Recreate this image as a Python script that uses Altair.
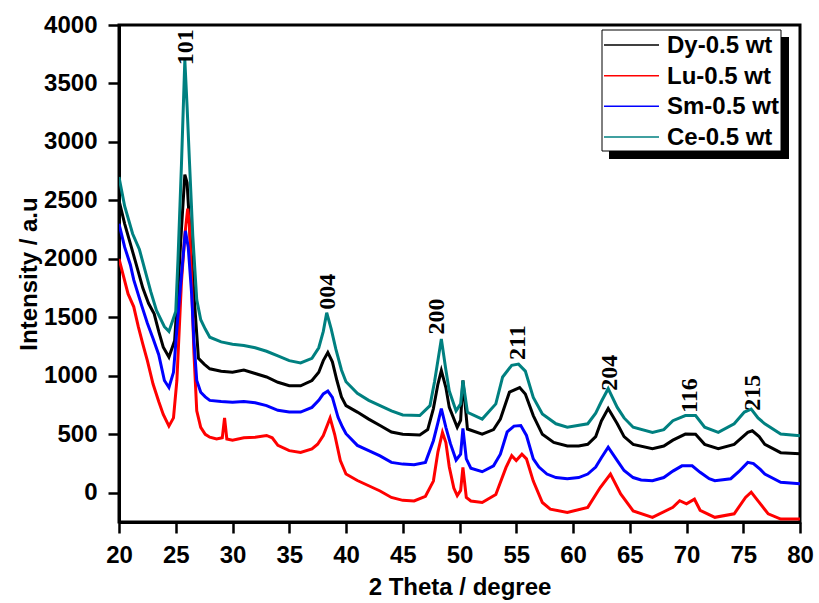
import altair as alt
import pandas as pd

series_names = ["Dy-0.5 wt", "Lu-0.5 wt", "Sm-0.5 wt", "Ce-0.5 wt"]
series_colors = ["#000000", "#ff0000", "#0000ff", "#008080"]

dy_x = [20, 20.5, 21, 21.5, 22.1, 22.6, 23.1, 23.5, 23.9, 24.4, 24.9, 25.2, 25.5, 25.8, 26.0, 26.3, 26.6, 27.0, 27.5, 28,
        29, 30, 31, 32, 33, 34, 35, 36, 37, 37.6, 38, 38.4, 38.8, 39.2, 39.6, 40, 41, 42, 43, 44,
        45, 46.5, 47.2, 47.7, 48.1, 48.4, 48.8, 49.1, 49.8, 50.1, 50.3, 50.7, 52, 53, 53.6, 54.4, 55.3, 55.8, 56.5, 57.3,
        58.3, 59.5, 60.5, 61.3, 62, 62.5, 63.1, 63.9, 64.5, 65.3, 67, 68, 68.8, 69.9, 70.8, 71.6, 72.8, 74.2, 75.4, 75.8,
        76.4, 76.9, 78.3, 80]
dy_y = [2500, 2300, 2130, 1960, 1750, 1620, 1530, 1380, 1245, 1160, 1300, 1750, 2250, 2720, 2650, 2150, 1700, 1150, 1100, 1060,
        1040, 1030, 1050, 1020, 990, 945, 915, 915, 960, 1030, 1130, 1200, 1120, 960, 820, 745, 690, 630, 575, 520,
        500, 495, 540, 720, 930, 1045, 900, 730, 560, 620, 960, 545, 502, 540, 630, 860, 900, 845, 660, 500,
        430, 400, 400, 414, 480, 614, 720, 590, 480, 414, 377, 400, 450, 502, 500, 414, 377, 414, 516, 530,
        480, 414, 343, 334]

lu_x = [20, 20.4, 20.8, 21.3, 21.7, 22.1, 22.5, 23, 23.5, 23.9, 24.4, 24.8, 25.1, 25.5, 25.8, 26.05, 26.2, 26.4, 26.6, 26.85,
        27.2, 27.6, 28, 28.6, 29.1, 29.3, 29.5, 30, 31, 32, 33, 33.5, 34, 35, 36, 37, 37.5, 38, 38.6, 39,
        39.5, 40, 41, 42, 43, 44, 45, 46, 47, 47.7, 48.1, 48.5, 48.8, 49.1, 49.5, 49.8, 50.1, 50.3, 50.6, 51,
        52, 53.2, 54.1, 54.6, 55.0, 55.5, 55.9, 56.5, 57.3, 58, 59.5, 61.3, 62.4, 63.3, 64.2, 65.3, 67, 68.8, 69.4, 70,
        70.7, 71.2, 72.5, 74.2, 75.2, 75.7, 76.3, 77.2, 78.3, 80]
lu_y = [2000, 1850, 1700, 1590, 1420, 1270, 1130, 930, 780, 670, 570, 640, 960, 1800, 2200, 2430, 2300, 1800, 1200, 700,
        560, 500, 475, 460, 470, 640, 460, 450, 470, 475, 490, 470, 405, 360, 345, 375, 415, 490, 640, 500,
        275, 160, 105, 60, 15, -40, -65, -70, -30, 100, 350, 516, 430, 220, 40, -25, 20, 217, -40, -70,
        -83, -15, 217, 317, 275, 330, 290, 100, -83, -140, -168, -125, 45, 160, -10, -155, -210, -125, -68, -95,
        -55, -150, -210, -180, -40, 5, -70, -180, -225, -225]

sm_x = [20, 20.5, 21, 21.3, 22, 22.5, 23, 23.5, 24, 24.4, 24.8, 25.1, 25.4, 25.85, 26.1, 26.4, 26.6, 26.85, 27.2, 27.6,
        28, 29, 30, 31, 32, 33, 34, 35, 36, 37, 37.6, 38, 38.4, 38.8, 39.3, 39.7, 40, 41, 42, 43,
        44, 45, 46, 47, 47.7, 48.1, 48.4, 48.8, 49.2, 49.7, 50.1, 50.3, 50.6, 51, 52, 53, 53.6, 54.2, 54.8, 55.4,
        55.9, 56.5, 57, 57.7, 58.5, 59.5, 60.5, 61.3, 62, 62.5, 63.1, 63.9, 64.5, 65.3, 66, 67, 68, 68.8, 69.6, 70.5,
        71.2, 72, 72.5, 73.9, 74.6, 75.4, 75.9, 76.5, 76.9, 78.3, 80]
sm_y = [2300, 2100, 1950, 1820, 1600, 1450, 1320, 1180, 960, 900, 1030, 1400, 1750, 2240, 2100, 1700, 1300, 960, 860, 820,
        790, 780, 775, 780, 770, 745, 705, 690, 690, 730, 790, 845, 870, 815, 645, 560, 505, 405, 360, 315,
        260, 245, 240, 260, 445, 600, 720, 560, 420, 280, 330, 550, 290, 210, 180, 230, 330, 520, 570, 575,
        490, 290, 220, 160, 130, 120, 130, 160, 220, 300, 390, 275, 190, 130, 110, 103, 130, 185, 230, 230,
        175, 120, 103, 120, 180, 260, 250, 200, 160, 90, 77]

ce_x = [20, 20.5, 21.2, 21.8, 22.3, 22.8, 23.3, 24, 24.4, 25.0, 25.2, 25.5, 25.8, 26.0, 26.2, 26.5, 26.85, 27.2, 27.6, 28,
        29, 30, 31, 32, 33, 34, 35, 36, 37, 37.6, 38, 38.3, 38.7, 39.1, 39.6, 40, 41, 42, 43, 44,
        45, 46.5, 47.4, 47.8, 48.4, 48.8, 49.1, 49.7, 50.1, 50.3, 50.7, 52, 53.2, 53.8, 54.6, 55.2, 55.8, 56.5, 57.3, 58.5,
        59.5, 61.3, 62, 62.5, 63.1, 63.9, 64.5, 65.3, 67, 68, 68.8, 69.9, 70.8, 71.6, 72.8, 74.2, 75.1, 75.7, 76.3, 76.9,
        78.3, 80]
ce_y = [2700, 2450, 2215, 2080, 1900, 1720, 1560, 1420, 1380, 1550, 2000, 2800, 3700, 3300, 2850, 2200, 1650, 1480, 1400, 1330,
        1290, 1270, 1260, 1240, 1210, 1170, 1130, 1110, 1150, 1240, 1380, 1540, 1400, 1230, 1050, 950, 850, 790, 745, 700,
        665, 660, 745, 950, 1316, 1050, 870, 700, 760, 960, 688, 630, 760, 990, 1090, 1100, 1040, 816, 673, 590,
        560, 590, 680, 780, 890, 730, 640, 560, 516, 540, 616, 660, 660, 560, 516, 590, 690, 716, 640, 590,
        502, 488]

peak_labels = ["101", "004", "200", "211", "204", "116", "215"]
peak_x = [25.9, 38.4, 48.0, 55.15, 63.25, 70.3, 75.85]
peak_y = [3810, 1720, 1507, 1284, 1027, 830, 856]

frames = []
for name, xs, ys in zip(series_names, [dy_x, lu_x, sm_x, ce_x], [dy_y, lu_y, sm_y, ce_y]):
    frames.append(pd.DataFrame({"theta": xs, "intensity": ys, "sample": name}))
df = pd.concat(frames, ignore_index=True)
labels_df = pd.DataFrame({"theta": peak_x, "intensity": peak_y, "label": peak_labels})
legend_df = pd.DataFrame({"sample": series_names})
box_df = pd.DataFrame({"k": [0]})

x_ticks = [20 + 2.5 * i for i in range(25)]
y_ticks = [250 * i for i in range(17)]

x_scale = alt.Scale(domain=[20, 80], nice=False, zero=False)
y_scale = alt.Scale(domain=[-250, 4000], nice=False, zero=False)
color_scale = alt.Scale(domain=series_names, range=series_colors)

x_axis = alt.Axis(
    title="2 Theta / degree", values=x_ticks, format="d",
    labelExpr="datum.value % 5 === 0 ? datum.label : ''",
    tickSize={"condition": {"test": "datum.value % 5 === 0", "value": 11}, "value": 6},
    labelFlush=False, labelOverlap=False, labelPadding=10, titlePadding=8, grid=False,
)
y_axis = alt.Axis(
    title="Intensity / a.u", values=y_ticks, format="d",
    labelExpr="datum.value % 500 === 0 ? datum.label : ''",
    tickSize={"condition": {"test": "datum.value % 500 === 0", "value": 11}, "value": 6},
    labelFlush=False, labelOverlap=False, labelPadding=11, titlePadding=2, grid=False,
)

lines = alt.Chart(df).mark_line(strokeWidth=3, clip=True).encode(
    x=alt.X("theta:Q", scale=x_scale, axis=x_axis),
    y=alt.Y("intensity:Q", scale=y_scale, axis=y_axis),
    color=alt.Color("sample:N", scale=color_scale, legend=None),
)

texts = alt.Chart(labels_df).mark_text(
    angle=270, font="Liberation Serif", fontWeight="bold", fontSize=24,
    align="center", baseline="middle", color="black",
).encode(
    x=alt.X("theta:Q", scale=x_scale),
    y=alt.Y("intensity:Q", scale=y_scale),
    text="label:N",
)

main = alt.layer(lines, texts)

# legend box (drawn manually to get its drop shadow)
shadow = alt.Chart(box_df).mark_rect(color="black").encode(
    x=alt.value(490), x2=alt.value(670), y=alt.value(12), y2=alt.value(134)
)
box = alt.Chart(box_df).mark_rect(fill="white", stroke="black", strokeWidth=1).encode(
    x=alt.value(483), x2=alt.value(662), y=alt.value(5), y2=alt.value(126)
)
row_y = alt.Y("sample:N", scale=alt.Scale(type="point", domain=series_names, range=[20, 112], padding=0), axis=None)
leg_lines = alt.Chart(legend_df).mark_rule(strokeWidth=1.5).encode(
    x=alt.value(485), x2=alt.value(540), y=row_y,
    color=alt.Color("sample:N", scale=color_scale, legend=None),
)
leg_text = alt.Chart(legend_df).mark_text(
    align="left", baseline="middle", font="Liberation Sans", fontWeight="bold", fontSize=24, color="black", dy=1,
).encode(
    x=alt.value(548), y=row_y, text="sample:N",
)
legend = alt.layer(shadow, box, leg_lines, leg_text)

chart = alt.layer(main, legend).resolve_scale(y="independent").properties(
    width=681, height=497,
    autosize=alt.AutoSizeParams(type="none"),
    padding={"left": 119, "top": 25, "right": 19, "bottom": 81},
).configure_view(
    stroke="black", strokeWidth=3,
).configure_axis(
    domainColor="black", domainWidth=3, tickColor="black", tickWidth=2.5,
    labelFont="Liberation Sans", labelFontWeight="bold", labelFontSize=24, labelColor="black",
    titleFont="Liberation Sans", titleFontWeight="bold", titleFontSize=24, titleColor="black",
)

chart.save("out.html", embed_options={"renderer": "svg", "actions": False})
